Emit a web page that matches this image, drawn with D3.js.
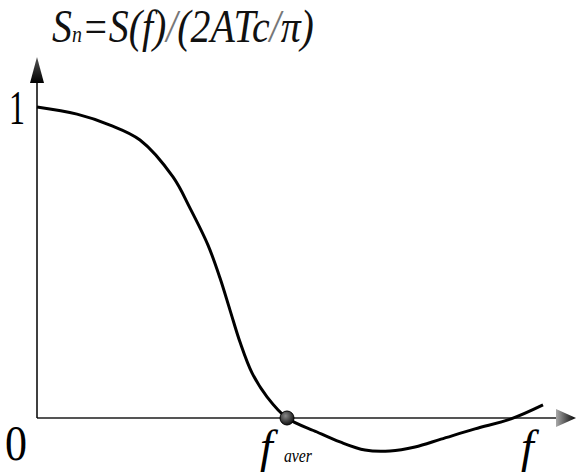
<!DOCTYPE html>
<html>
<head>
<meta charset="utf-8">
<script src="https://cdn.jsdelivr.net/npm/d3@7"></script>
<style>
  html, body { margin: 0; padding: 0; background: #fff; }
  svg { display: block; }
  .lbl { font-family: 'Liberation Serif', 'Times New Roman', Times, serif; }
  .it { font-style: italic; }
</style>
</head>
<body>
<div id="chart"></div>
<script>
// normalised spectrum, f in units of f_aver
var fVals  = [0, 0.16, 0.292, 0.412, 0.544, 0.612, 0.684, 0.732, 0.772, 0.812, 0.86, 0.92, 1.0, 1.12, 1.212, 1.312, 1.412, 1.512, 1.616, 1.752, 1.896, 2.024];
var snVals = [1.0, 0.977, 0.942, 0.894, 0.775, 0.675, 0.556, 0.450, 0.347, 0.244, 0.145, 0.068, 0, -0.045, -0.077, -0.103, -0.106, -0.093, -0.068, -0.035, -0.003, 0.042];
var yTickLabels = ['1'];
var markerF = [1.0];
var titleParts = ['S', 'n', '=S(f)', '/', '(2ATc', '/', '\u03c0)'];

var width = 576, height = 475;
var svg = d3.select('#chart').append('svg')
    .attr('width', width).attr('height', height);

var x = d3.scaleLinear().domain([0, 1]).range([37, 287]);
var y = d3.scaleLinear().domain([0, 1]).range([418, 107]);

var defs = svg.append('defs');
var gR = defs.append('linearGradient').attr('id', 'gr').attr('x1', 0).attr('x2', 1).attr('y1', 0).attr('y2', 0);
gR.append('stop').attr('offset', '0%').attr('stop-color', '#aaa');
gR.append('stop').attr('offset', '100%').attr('stop-color', '#000');
var gU = defs.append('linearGradient').attr('id', 'gu').attr('x1', 0).attr('x2', 0).attr('y1', 0).attr('y2', 1);
gU.append('stop').attr('offset', '0%').attr('stop-color', '#555');
gU.append('stop').attr('offset', '100%').attr('stop-color', '#000');
var gB = defs.append('radialGradient').attr('id', 'gb').attr('cx', '40%').attr('cy', '35%').attr('r', '65%');
gB.append('stop').attr('offset', '0%').attr('stop-color', '#888');
gB.append('stop').attr('offset', '100%').attr('stop-color', '#111');

var x0 = x(0), y0 = y(0);

// axes
svg.append('line')
    .attr('x1', x0).attr('x2', 556).attr('y1', y0).attr('y2', y0)
    .attr('stroke', '#555').attr('stroke-width', 2);
svg.append('path')
    .attr('d', 'M556,' + (y0 - 9) + 'L576,' + y0 + 'L556,' + (y0 + 9) + 'Z')
    .attr('fill', 'url(#gr)');
svg.append('line')
    .attr('x1', x0).attr('x2', x0).attr('y1', y0).attr('y2', 82)
    .attr('stroke', '#000').attr('stroke-width', 1.5);
svg.append('path')
    .attr('d', 'M' + (x0 - 7) + ',83L' + x0 + ',57L' + (x0 + 7) + ',83Z')
    .attr('fill', 'url(#gu)');

// curve
var line = d3.line()
    .x(function(d, i){ return x(fVals[i]); })
    .y(function(d){ return y(d); })
    .curve(d3.curveCatmullRom.alpha(0.5));
svg.append('path')
    .datum(snVals)
    .attr('d', line)
    .attr('fill', 'none')
    .attr('stroke', '#000')
    .attr('stroke-width', 3);

// marker at f_aver
svg.selectAll('circle.m')
    .data(markerF)
    .enter().append('circle')
    .attr('class', 'm')
    .attr('cx', function(d){ return x(d); })
    .attr('cy', y0)
    .attr('r', 7)
    .attr('fill', 'url(#gb)')
    .attr('stroke', '#000')
    .attr('stroke-width', 1);

// squeeze a text element horizontally to a target width (if given)
function fit(sel, left, base, w){
    var k = w ? w / sel.node().getComputedTextLength() : 1;
    sel.attr('x', 0).attr('y', 0)
       .attr('transform', 'translate(' + left + ',' + base + ') scale(' + k + ',1)');
}

// labels
svg.selectAll('text.yt')
    .data(yTickLabels)
    .enter().append('text')
    .attr('class', 'yt lbl')
    .style('font-size', '48px')
    .text(function(d){ return d; })
    .each(function(d){ fit(d3.select(this), 9, y(+d) + 17, 16); });

var zero = svg.append('text')
    .attr('class', 'lbl')
    .style('font-size', '50px')
    .text('0');
fit(zero, 5, 460, 22);

var fAx = svg.append('text')
    .attr('class', 'lbl it')
    .style('font-size', '46px')
    .text('f');
fit(fAx, 521, 462);

var fAv = svg.append('text')
    .attr('class', 'lbl it')
    .style('font-size', '46px')
    .text('f');
fit(fAv, x(markerF[0]) - 27, 462);

var aver = svg.append('text')
    .attr('class', 'lbl it')
    .style('font-size', '19px')
    .text('aver');
fit(aver, x(markerF[0]) - 3, 462, 28);

// title
var title = svg.append('text')
    .attr('class', 'lbl it')
    .style('font-size', '46px')
    .style('fill', '#111');
title.selectAll('tspan')
    .data(titleParts)
    .enter().append('tspan')
    .style('font-size', function(d, i){ return i === 1 ? '23px' : null; })
    .style('fill', function(d){ return d === '/' ? '#777' : null; })
    .text(function(d){ return d; });
fit(title, 52, 42, 262);
</script>
</body>
</html>
